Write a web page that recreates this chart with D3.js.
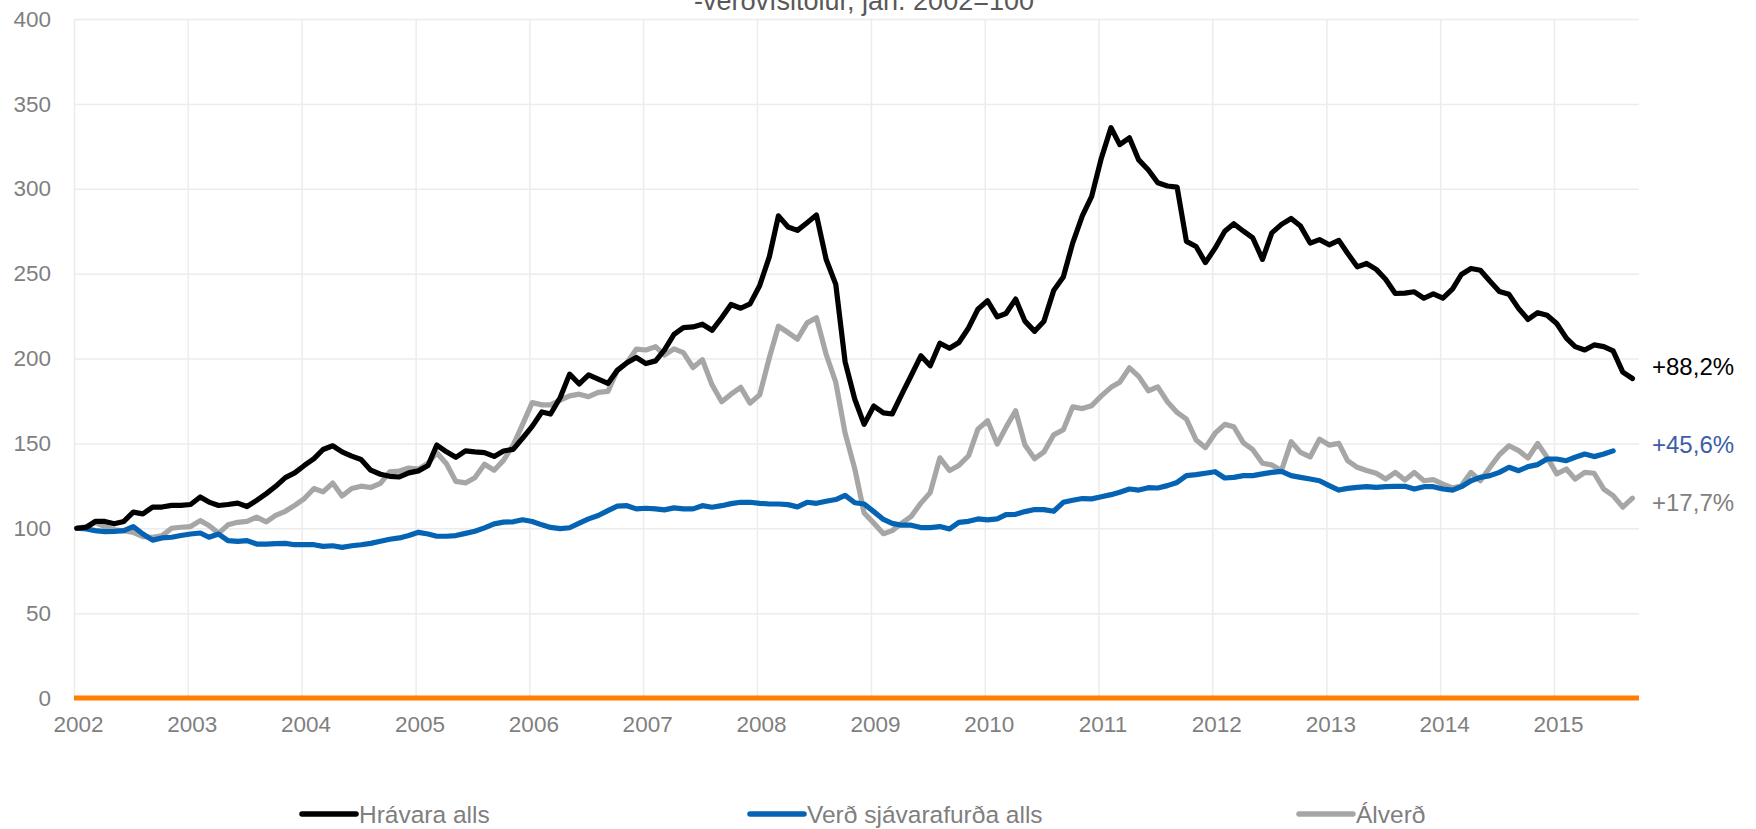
<!DOCTYPE html>
<meta charset="utf-8">
<script src="https://d3js.org/d3.v7.min.js"></script>
<style>
  body { margin: 0; background: #fff; }
  text { font-family: "Liberation Sans", Arial, sans-serif; }
</style>
<div id="chart"></div>
<script>

// monthly index, jan. 2002 = 100
var hravara = [
  100, 100.6, 104, 104, 102.6, 104, 109.5, 108.5, 112.5, 112.5, 113.5, 113.5,
  114, 118.4, 115.4, 113.4, 114, 114.8, 112.8, 116.4, 120.4, 124.7, 129.8, 132.6,
  137, 141, 146.4, 148.6, 145, 142.5, 140.5, 134.2, 131.8, 130.6, 130.2, 132.6,
  133.8, 137, 149, 145, 141.8, 145.6, 145, 144.6, 142.3, 145.5, 146.5, 153,
  160, 168.5, 167.3, 177, 190.8, 185, 190.3, 187.8, 185.3, 193, 197.5, 200.6,
  197, 198.6, 205, 214.2, 218.2, 218.6, 220.2, 216.6, 224, 231.8, 229.6, 232.2,
  243, 260, 284, 277.5, 275.5, 280, 284.5, 258.5, 243.7, 198, 176, 161.2,
  172, 168, 167.3, 179, 190, 201.6, 195.7, 209, 206, 209.4, 218, 229,
  234, 224.5, 226.5, 235, 222, 216, 222, 240, 248, 268, 284, 295.5,
  318, 336, 326, 330, 317, 311, 303.5, 301.6, 301, 269, 266, 256.5,
  265, 275, 279.4, 275, 271, 258.4, 274, 279, 282.5, 278, 268, 270,
  267, 269.6, 262, 254, 256, 252.5, 246.7, 238.3, 238.5, 239.3, 235.5, 238.1,
  235.5, 241, 249.5, 253, 252, 245.5, 239.5, 237.8, 229.4, 223, 227, 225.5,
  220.6, 212, 207, 205, 208, 207, 204.5, 192, 188.2
];

var sjavarafurdir = [
  100, 99.6, 98.6, 98, 98.2, 98.6, 101, 96.6, 93, 94.3, 94.7, 95.7,
  96.6, 97.2, 94.7, 96.6, 92.7, 92.3, 92.7, 90.7, 90.7, 90.9, 91.1, 90.3,
  90.3, 90.3, 89.3, 89.7, 88.7, 89.7, 90.3, 91.1, 92.3, 93.5, 94.3, 95.7,
  97.6, 96.6, 95.3, 95.3, 95.7, 97, 98.2, 100.2, 102.6, 103.6, 103.8, 105,
  104, 102, 100.5, 99.8, 100.3, 103, 105.5, 107.5, 110.4, 113, 113.3, 111.4,
  111.8, 111.4, 110.8, 112, 111.4, 111.4, 113.3, 112.4, 113.3, 114.5, 115.3, 115.3,
  114.7, 114.3, 114.3, 113.9, 112.6, 115.3, 114.7, 115.9, 116.9, 119.4, 115, 114.3,
  109.8, 105.2, 102.9, 101.8, 101.8, 100.4, 100.4, 101, 99.6, 103.5, 104.1, 105.5,
  104.9, 105.5, 108, 108.2, 109.8, 111, 111, 110, 115.3, 116.5, 117.5, 117.3,
  118.6, 119.8, 121.2, 123.1, 122.5, 123.9, 123.7, 125.1, 127, 131, 131.6, 132.4,
  133.3, 129.6, 130, 131, 131, 132, 132.9, 133.5, 131, 130, 129, 128,
  125.1, 122.5, 123.5, 124.1, 124.5, 124.1, 124.5, 124.7, 124.7, 123.1, 124.5, 124.5,
  123.1, 122.5, 124.5, 128, 130, 131, 132.9, 135.9, 133.9, 136.3, 137.5, 140.8,
  140.8, 139.8, 141.8, 143.7, 142.2, 143.7, 145.6
];

var alverd = [
  100, 101, 103.5, 101, 99, 98.5, 97.5, 95, 94.7, 95.5, 100, 100.6,
  101, 104.5, 101.6, 97, 102, 103.5, 104, 106.5, 103.8, 107.6, 110, 113.5,
  117.5, 123.4, 121.4, 126.6, 119, 123.4, 124.8, 124, 126.4, 133.2, 133.7, 135.5,
  134.8, 138.3, 144.5, 138, 127.6, 126.7, 129.8, 137.7, 134.2, 140, 149, 161,
  174, 172.7, 172.7, 175.5, 178, 179, 177.5, 180, 180.6, 193, 197.5, 205.5,
  205, 207, 202, 205.7, 203.5, 194.7, 199.3, 184.5, 174.5, 179, 183, 173.7,
  178.6, 200.6, 219, 215.3, 211.4, 221, 224, 202.5, 186, 156, 135, 109,
  103, 96.8, 98.6, 103, 107, 114.8, 121, 141.5, 134, 137, 142.7, 158.4,
  163.3, 149.6, 159.4, 169.2, 149, 141, 145, 155, 158, 171.5, 170.5, 172.2,
  178, 183, 186, 194.5, 189.5, 181, 183.3, 174.5, 168.2, 164.3, 152, 147.5,
  156, 161.2, 159.8, 150.3, 146.3, 138.3, 137.3, 134, 151, 144.7, 142, 152.5,
  149, 150, 139.8, 135.9, 134, 132.4, 129, 132.9, 128.4, 132.9, 128, 128.6,
  126, 123.7, 125.1, 132.9, 128, 135.9, 143.3, 148.6, 145.7, 141.4, 150, 141.8,
  132, 134.9, 129, 132.9, 132.4, 123.1, 119.2, 112.4, 117.7
];

var seriesNames = ["Hrávara alls", "Verð sjávarafurða alls", "Álverð"];
var endLabels = ["+88,2%", "+45,6%", "+17,7%"];
var yearLabels = ["2002", "2003", "2004", "2005", "2006", "2007", "2008",
                  "2009", "2010", "2011", "2012", "2013", "2014", "2015"];
var yTicks = [0, 50, 100, 150, 200, 250, 300, 350, 400];
var subtitle = "-verðvísitölur, jan. 2002=100";

var width = 1756, height = 829;
var plotLeft = 74, plotRight = 1639, plotTop = 19, plotBottom = 698;

var svg = d3.select("#chart").append("svg")
    .attr("width", width)
    .attr("height", height);

var x = d3.scaleTime()
    .domain([new Date(2002, 0, 1), new Date(2015, 9, 1)])
    .range([plotLeft, plotRight]);

var y = d3.scaleLinear()
    .domain([0, 400])
    .range([plotBottom, plotTop]);

// one point per month, placed a little into the month
function toPoints(values) {
  return values.map(function(v, i) { return { date: new Date(2002, i, 10), value: v }; });
}

var series = [
  { name: seriesNames[0], color: "#000000", values: toPoints(hravara), label: endLabels[0], labelColor: "#000000", dy: -12 },
  { name: seriesNames[1], color: "#0563b4", values: toPoints(sjavarafurdir), label: endLabels[1], labelColor: "#3a5ea8", dy: -6 },
  { name: seriesNames[2], color: "#a6a6a6", values: toPoints(alverd), label: endLabels[2], labelColor: "#808080", dy: 4 }
];

// subtitle, cut off at the top like the original
svg.append("text")
    .attr("x", 864)
    .attr("y", 10)
    .attr("text-anchor", "middle")
    .style("font-size", "27px")
    .style("fill", "#595959")
    .text(subtitle);

// y axis + horizontal grid
var yAxis = svg.append("g")
    .attr("transform", "translate(" + plotLeft + ",0)")
    .call(d3.axisLeft(y)
      .tickValues(yTicks)
      .tickSize(-(plotRight - plotLeft))
      .tickPadding(23));
yAxis.select(".domain").remove();
yAxis.selectAll("line").attr("stroke", "#ececec").attr("stroke-width", 1.5);
yAxis.selectAll("text")
    .style("font-size", "22.5px")
    .style("fill", "#7f7f7f")
    .style("font-family", "Liberation Sans, Arial, sans-serif");

// x axis + vertical grid
var yearDates = yearLabels.map(function(d) { return new Date(+d, 0, 1); });
var xAxis = svg.append("g")
    .attr("transform", "translate(0," + plotBottom + ")")
    .call(d3.axisBottom(x)
      .tickValues(yearDates)
      .tickFormat(function(d, i) { return yearLabels[i]; })
      .tickSize(-(plotBottom - plotTop))
      .tickPadding(18));
xAxis.select(".domain").remove();
xAxis.selectAll("line").attr("stroke", "#ececec").attr("stroke-width", 1.5);
xAxis.selectAll("text")
    .attr("dx", "4")
    .style("font-size", "22.5px")
    .style("fill", "#7f7f7f")
    .style("font-family", "Liberation Sans, Arial, sans-serif");

// orange zero line
svg.append("line")
    .attr("x1", plotLeft)
    .attr("x2", plotRight)
    .attr("y1", y(0))
    .attr("y2", y(0))
    .attr("stroke", "#ff7f00")
    .attr("stroke-width", 5);

var line = d3.line()
    .x(function(d) { return x(d.date); })
    .y(function(d) { return y(d.value); });

// draw grey first, black on top
svg.selectAll(".series")
  .data(series.slice().reverse())
  .enter()
  .append("path")
    .attr("class", "series")
    .attr("d", function(d) { return line(d.values); })
    .attr("fill", "none")
    .attr("stroke", function(d) { return d.color; })
    .attr("stroke-width", 5.2)
    .attr("stroke-linejoin", "round")
    .attr("stroke-linecap", "round");

// end labels
svg.selectAll(".endlabel")
  .data(series)
  .enter()
  .append("text")
    .attr("class", "endlabel")
    .attr("x", 1652)
    .attr("y", function(d) { return y(d.values[d.values.length - 1].value) + d.dy; })
    .attr("dy", "0.35em")
    .style("font-size", "24px")
    .style("fill", function(d) { return d.labelColor; })
    .text(function(d) { return d.label; });

// legend
var legendX = [302, 750, 1299];
var legend = svg.selectAll(".legend")
  .data(series)
  .enter()
  .append("g")
    .attr("class", "legend")
    .attr("transform", function(d, i) { return "translate(" + legendX[i] + ",814)"; });

legend.append("line")
    .attr("x1", 0).attr("x2", 54)
    .attr("y1", 0).attr("y2", 0)
    .attr("stroke", function(d) { return d.color; })
    .attr("stroke-width", 5.5)
    .attr("stroke-linecap", "round");

legend.append("text")
    .attr("x", 57)
    .attr("dy", "0.35em")
    .style("font-size", "24.5px")
    .style("fill", "#7f7f7f")
    .text(function(d) { return d.name; });

</script>
